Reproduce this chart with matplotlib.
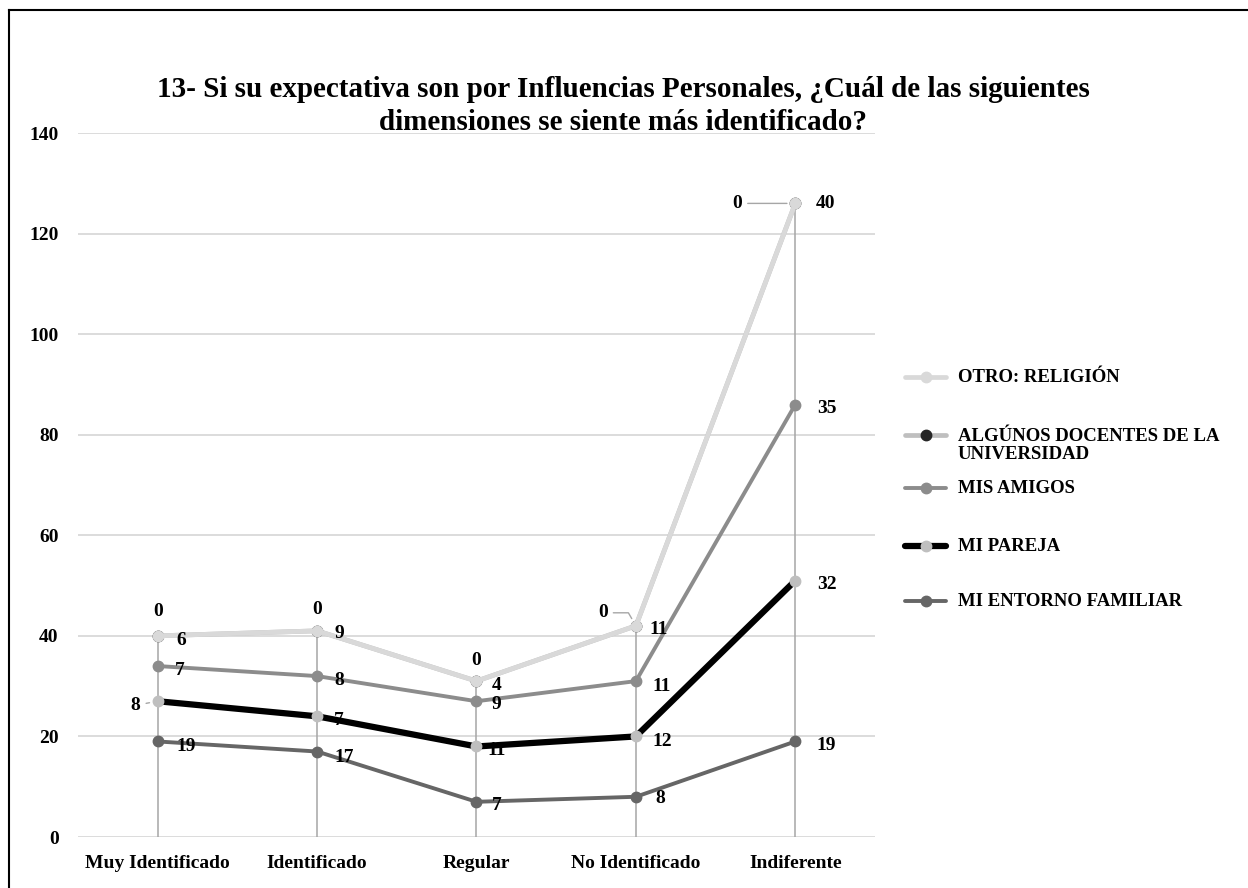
import matplotlib
matplotlib.use("Agg")
import matplotlib.pyplot as plt
from matplotlib.lines import Line2D
import numpy as np

# ---------------- data ----------------
categories = ["Muy Identificado", "Identificado", "Regular", "No Identificado", "Indiferente"]
series_names = ["MI ENTORNO FAMILIAR", "MI PAREJA", "MIS AMIGOS",
                "ALGÚNOS DOCENTES DE LA UNIVERSIDAD", "OTRO: RELIGIÓN"]
entorno = [19, 17, 7, 8, 19]
pareja = [8, 7, 11, 12, 32]
amigos = [7, 8, 9, 11, 35]
docentes = [6, 9, 4, 11, 40]
religion = [0, 0, 0, 0, 0]
yticks = [0, 20, 40, 60, 80, 100, 120, 140]
title = ("13- Si su expectativa son por Influencias Personales, ¿Cuál de las siguientes\n"
         "dimensiones se siente más identificado?")

# ---------------- style ----------------
plt.rcParams['font.family'] = ['Liberation Serif', 'DejaVu Serif']
plt.rcParams['font.weight'] = 'bold'

line_colors = ["#666666", "#000000", "#8c8c8c", "#bfbfbf", "#d9d9d9"]
marker_colors = ["#666666", "#bfbfbf", "#8c8c8c", "#262626", "#d9d9d9"]
line_widths = [2.8, 4.5, 2.8, 3.4, 3.4]
legend_labels = ["MI ENTORNO FAMILIAR", "MI PAREJA", "MIS AMIGOS",
                 "ALGÚNOS DOCENTES DE LA\nUNIVERSIDAD", "OTRO: RELIGIÓN"]
legend_y_px = [601, 546, 488, 435, 377]   # vertical position of each legend entry

# label offsets in pixels (dx, dy) per series per category
offsets = [
    [(28, -5), (27, -6), (20, -4), (24, -2), (31, -4)],     # entorno
    [(-22, -4), (22, -4), (20, -4), (26, -5), (32, -4)],    # pareja
    [(22, -4), (22, -4), (20, -3), (26, -5), (32, -4)],     # amigos
    [(24, -5), (22, -3), (20, -4), (23, -4), (30, 0)],      # docentes
    [(0, 24), (0, 21), (0, 21), (-33, 13), (-58, 0)],       # religion
]
leaders = {(1, 0): 'arc3', (4, 3): 'angle,angleA=0,angleB=-60', (4, 4): 'arc3'}

W, H = 1248, 888
fig = plt.figure(figsize=(W / 100, H / 100), dpi=100)
ax = fig.add_axes([78 / W, 1 - 837 / H, (875 - 78) / W, (837 - 133) / H])

values = [entorno, pareja, amigos, docentes, religion]
cum = np.cumsum(np.array(values, dtype=float), axis=0)
x = np.arange(len(categories))

# drop lines
ax.vlines(x, 0, cum.max(axis=0), color="#a6a6a6", lw=1.1, zorder=1)

for i in range(len(values)):
    ax.plot(x, cum[i], color=line_colors[i], lw=line_widths[i], marker='o',
            markersize=7.5, markerfacecolor=marker_colors[i],
            markeredgecolor=marker_colors[i], zorder=3 + i, solid_capstyle='round')

for i in range(len(values)):
    for j in range(len(categories)):
        dx, dy = offsets[i][j]
        kw = {}
        if (i, j) in leaders:
            kw['arrowprops'] = dict(arrowstyle='-', color='#a6a6a6', lw=1.0,
                                    connectionstyle=leaders[(i, j)],
                                    shrinkA=2, shrinkB=6)
        ax.annotate(str(values[i][j]), xy=(x[j], cum[i][j]), xytext=(dx, dy),
                    textcoords='offset pixels', ha='center', va='center',
                    fontsize=14, fontweight='bold', color='black', zorder=10, **kw)

ax.set_xlim(-0.5, len(categories) - 0.5)
ax.set_ylim(0, 140)
ax.set_yticks(yticks)
ax.set_yticklabels([str(t) for t in yticks], fontsize=14, fontweight='bold')
ax.set_xticks(x)
ax.set_xticklabels(categories, fontsize=14, fontweight='bold')
ax.tick_params(axis='both', length=0)
ax.tick_params(axis='y', pad=14)
ax.tick_params(axis='x', pad=13)
ax.grid(axis='y', color='#d9d9d9', lw=1.3, zorder=0)
ax.set_axisbelow(True)
for s in ax.spines.values():
    s.set_visible(False)

# manual legend
for i in range(len(values)):
    yf = 1 - legend_y_px[i] / H
    fig.add_artist(Line2D([905 / W, 946 / W], [yf, yf], color=line_colors[i],
                          lw=line_widths[i], solid_capstyle='round',
                          transform=fig.transFigure))
    fig.add_artist(Line2D([925.5 / W], [yf], marker='o', markersize=7.5, lw=0,
                          markerfacecolor=marker_colors[i],
                          markeredgecolor=marker_colors[i],
                          transform=fig.transFigure))
    lab = legend_labels[i]
    nlines = lab.count('\n') + 1
    if nlines == 1:
        fig.text(958 / W, yf, lab, ha='left', va='center', fontsize=13.5,
                 fontweight='bold')
    else:
        fig.text(958 / W, yf + 7 / H, lab, ha='left', va='top', fontsize=13.5,
                 fontweight='bold', linespacing=1.05)

fig.text(623 / W, 1 - 106 / H, title, ha='center', va='center', fontsize=21,
         fontweight='bold', linespacing=1.25)

# border (left and top)
fig.add_artist(Line2D([9 / W, 9 / W], [0, 1 - 10 / H], color='black', lw=1.5,
                      transform=fig.transFigure))
fig.add_artist(Line2D([9 / W, 1], [1 - 10 / H, 1 - 10 / H], color='black', lw=1.5,
                      transform=fig.transFigure))

fig.savefig("out.png", dpi=100)
